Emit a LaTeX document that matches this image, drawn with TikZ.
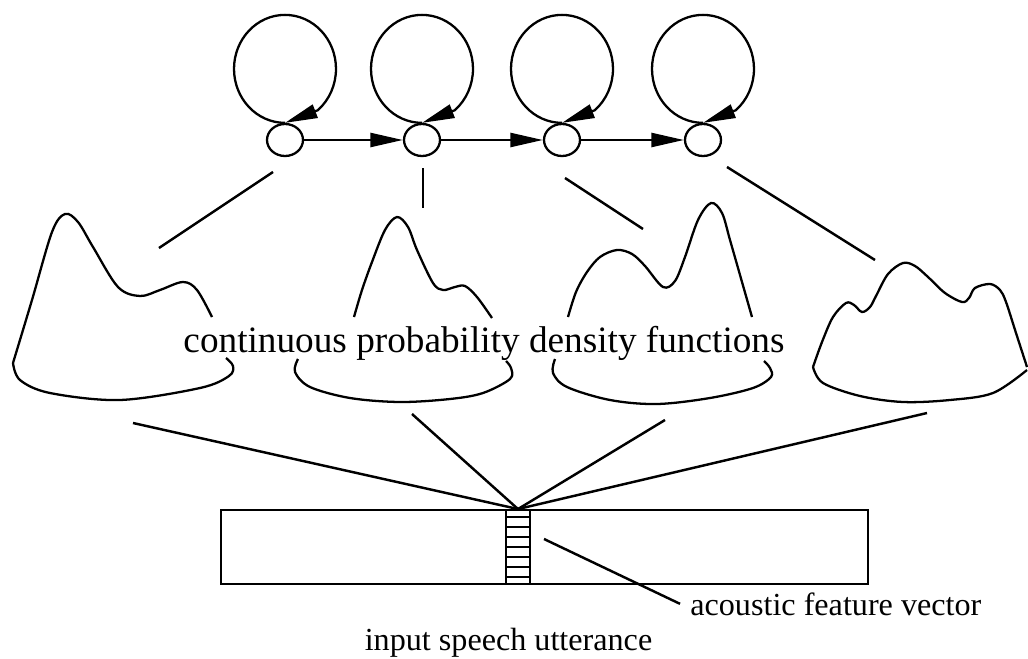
\documentclass[tikz,border=0pt]{standalone}
\usepackage{fontspec}
\setmainfont{Liberation Serif}
\usetikzlibrary{arrows.meta,shapes.geometric,positioning,calc}

\begin{document}
\begin{tikzpicture}[x=0.02cm,y=-0.02cm,
   >={Triangle[length=6.5mm,width=2.8mm]},
   st/.style={ellipse,draw,line width=1.3pt,minimum width=7.2mm,minimum height=6.4mm,inner sep=0pt},
   ln/.style={line width=1.4pt},
   bump/.style={line width=1.3pt},
   selfloop/.style={line width=1.3pt,->},
   box/.style={draw,line width=1.1pt,minimum height=1.48cm,inner sep=0pt}]
  \useasboundingbox (0,0) rectangle (1028,659);
  % states of the model
  \node[st] (s1) at (285,140) {};
  \node[st] (s2) at (422,140) {};
  \node[st] (s3) at (562,140) {};
  \node[st] (s4) at (703,140) {};
  \foreach \s in {s1,s2,s3,s4}
    \draw[selfloop] (\s.north) arc[start angle=-90,delta angle=-320,x radius=1.02cm,y radius=1.08cm] -- (\s.north);
  \draw[ln,->] (s1) -- (s2);
  \draw[ln,->] (s2) -- (s3);
  \draw[ln,->] (s3) -- (s4);
  % output densities
  \draw[bump] plot[smooth,tension=0.55] coordinates {(212,317) (197,290) (183,282) (160,290) (140,296) (118,287) (93,247) (78,222) (65,214) (52,232) (32,300) (13,363)};
  \draw[bump] plot[smooth,tension=0.55] coordinates {(13,363) (20,380) (50,393) (120,400) (200,388) (229,376) (233,366) (226,358)};
  \draw[bump] plot[smooth,tension=0.55] coordinates {(354,317) (362,290) (372,262) (385,230) (397,217) (408,227) (417,250) (433,283) (443,290) (455,287) (465,286) (477,297) (492,318)};
  \draw[bump] plot[smooth,tension=0.55] coordinates {(298,359) (295,372) (310,387) (350,398) (400,402) (450,399) (483,393) (510,379) (511,368) (506,361)};
  \draw[bump] plot[smooth,tension=0.55] coordinates {(568,317) (576,292) (587,272) (600,257) (617,250) (632,254) (645,266) (663,287) (675,281) (685,257) (698,220) (711,203) (722,213) (730,240) (742,282) (752,317)};
  \draw[bump] plot[smooth,tension=0.55] coordinates {(555,359) (553,373) (567,387) (610,400) (657,404) (710,398) (753,388) (771,377) (770,368) (764,361)};
  \draw[bump] plot[smooth,tension=0.55] coordinates {(813,367) (822,342) (833,317) (846,303) (854,305) (862,312) (870,307) (876,296) (888,274) (903,263) (915,266) (928,277) (945,293) (962,302) (969,298) (975,288) (990,284) (1000,290) (1006,302) (1016,333) (1027,367)};
  \draw[bump] plot[smooth,tension=0.55] coordinates {(813,367) (823,383) (860,396) (903,402) (950,400) (993,393) (1027,370)};
  \node[font=\fontsize{21.2}{25}\selectfont,anchor=base] (pdflab) at (484,352) {continuous probability density functions};
  % links from states to densities
  \coordinate (s1low) at (273,172);
  \coordinate (s2low) at (423,168);
  \coordinate (s3low) at (565,178);
  \coordinate (s4low) at (727,167);
  \coordinate (p1top) at (159,248);
  \coordinate (p2top) at (423,208);
  \coordinate (p3top) at (643,229);
  \coordinate (p4top) at (875,260);
  \draw[ln] (s1low) -- (p1top);
  \draw[ln] (s2low) -- (p2top);
  \draw[ln] (s3low) -- (p3top);
  \draw[ln] (s4low) -- (p4top);
  % utterance and feature vector
  \node[box,minimum width=12.94cm] (utt) at (544.5,547) {};
  \node[box,minimum width=0.48cm] (vec) at (518,547) {};
  \foreach \yy in {517,527,...,577}
    \draw[line width=1pt] (506,\yy) -- (530,\yy);
  \coordinate (p1low) at (133,423);
  \coordinate (p2low) at (412,414);
  \coordinate (p3low) at (665,420);
  \coordinate (p4low) at (927,413);
  \foreach \p in {p1low,p2low,p3low,p4low}
    \draw[ln] (\p) -- (vec.north);
  \node[font=\fontsize{18.3}{22}\selectfont,anchor=base] (uttlab) at (508.5,650) {input speech utterance};
  \node[font=\fontsize{18.3}{22}\selectfont,anchor=base west,inner sep=0pt] (veclab) at (690,615) {acoustic feature vector};
  \coordinate (vecpt) at (544,539);
  \draw[ln] (vecpt) -- ([xshift=-2mm]veclab.west);
\end{tikzpicture}
\end{document}
